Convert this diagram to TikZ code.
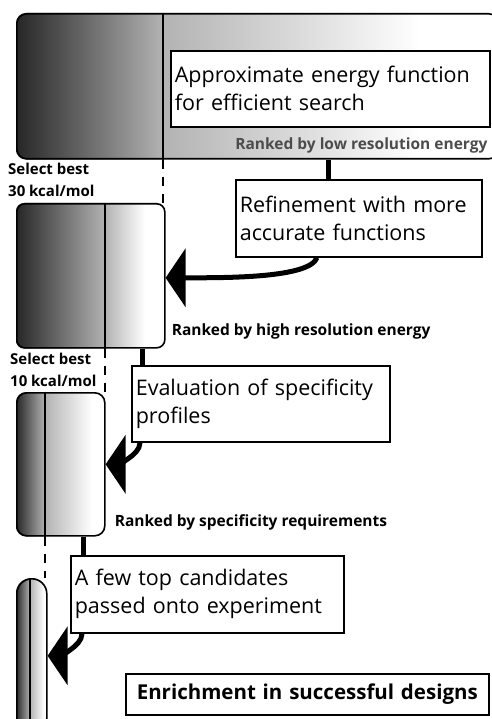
\documentclass[tikz,border=0pt]{standalone}
\usepackage{fontspec}
\setmainfont{Open Sans}
\usepackage{tikz}
\usetikzlibrary{positioning}
\usetikzlibrary{calc}
\usetikzlibrary{arrows.meta}
\tikzset{
    % Broad flat heads for the flow arrows
    >={Triangle[length=20pt, width=58pt]},
%
    % Outline of a pool of designs
    pool/.style={
        draw, line width=1.6pt, inner sep=0, anchor=north west},
%
    % The two shaded parts of a pool
    dark fill/.style={left color=black!85, right color=black!30},
    light fill/.style={left color=black!30, right color=white},
%
    % One step of the protocol, in a white box
    stage/.style={
        draw, line width=1.6pt, fill=white, anchor=north west,
        align=left, inner xsep=4pt, font=\fontsize{21.5}{28}\selectfont},
%
    % Small bold remarks beside the pools
    note/.style={font=\bfseries\fontsize{15.5}{22}\selectfont,
        inner sep=0, align=left},
%
    % Lines between the pools and the steps
    link/.style={line width=5pt},
    flow/.style={line width=5pt, ->},
    divider/.style={line width=1.6pt},
    gap/.style={line width=1.6pt, dash pattern=on 9pt off 8pt}}
\pgfdeclarelayer{background}
\pgfsetlayers{background,main}

\begin{document}
\begin{tikzpicture}[x=1pt, y=1pt]
\useasboundingbox (0,0) rectangle (491,-719);

% each pool is as wide as the best part of the one above
\node (pool1) [pool, rounded corners=10pt,
    minimum width=482pt, minimum height=145pt] at (16,-13) {};
\node (pool2) [pool, rounded corners=8pt,
    minimum width=148pt, minimum height=144pt] at (16,-203) {};
\node (pool3) [pool, rounded corners=10pt,
    minimum width=88pt, minimum height=143pt] at (16,-392) {};
\node (pool4) [pool, rounded corners=15pt,
    minimum width=30pt, minimum height=154pt] at (16,-578) {};

\coordinate (cut1) at ([xshift=147pt]pool1.south west);
\coordinate (cut2) at ([xshift=89pt]pool2.south west);
\coordinate (cut3) at ([xshift=29pt]pool3.south west);
\coordinate (cut4) at ([xshift=14pt]pool4.south west);

\begin{pgfonlayer}{background}
\begin{scope}
\clip [rounded corners=10pt] (pool1.north west) rectangle (pool1.south east);
\shade [dark fill] (pool1.north west) rectangle (cut1);
\shade [light fill] (cut1 |- pool1.north) rectangle (420,-158);
\end{scope}
\begin{scope}
\clip [rounded corners=8pt] (pool2.north west) rectangle (pool2.south east);
\shade [dark fill] (pool2.north west) rectangle (cut2);
\shade [light fill] (cut2 |- pool2.north) rectangle (145,-347);
\end{scope}
\begin{scope}
\clip [rounded corners=10pt] (pool3.north west) rectangle (pool3.south east);
\shade [dark fill] (pool3.north west) rectangle (cut3);
\shade [light fill] (cut3 |- pool3.north) rectangle (92,-535);
\end{scope}
\begin{scope}
\clip [rounded corners=15pt] (pool4.north west) rectangle (pool4.south east);
\shade [dark fill] (pool4.north west) rectangle (cut4);
\shade [light fill] (cut4 |- pool4.north) rectangle (44,-732);
\end{scope}
\end{pgfonlayer}

\draw [divider] (cut1 |- pool1.north) -- (cut1);
\draw [divider] (cut2 |- pool2.north) -- (cut2);
\draw [divider] (cut3 |- pool3.north) -- (cut3);
\draw [divider] (cut4 |- pool4.north) -- (cut4);
\draw [gap] (cut1) -- (cut1 |- pool2.north);
\draw [gap] (cut2) -- (cut2 |- pool3.north);
\draw [gap] (cut3) -- (cut3 |- pool4.north);

\node (approx) [stage, text width=311pt, minimum height=76pt]
    at (170,-50) {Approximate energy function\\for efficient search};
\node (refine) [stage, text width=238pt, minimum height=77pt]
    at (235,-179) {Refinement with more\\accurate functions};
\node (eval) [stage, text width=250pt, minimum height=76pt]
    at (131,-365) {Evaluation of specificity\\profiles};
\node (few) [stage, text width=265pt, minimum height=77pt]
    at (70,-555) {A few top candidates\\passed onto experiment};
\node (enrich) [stage, align=center, text width=355pt, minimum height=41pt,
    font=\bfseries\fontsize{20.5}{24}\selectfont]
    at (125,-673) {Enrichment in successful designs};

\node (low) [note, text=black!70, anchor=base east]
    at ([xshift=-3pt, yshift=-22pt]approx.south east)
    {Ranked by low resolution energy};
\node (high) [note, anchor=base west]
    at ([xshift=6pt, yshift=13pt]pool2.south east)
    {Ranked by high resolution energy};
\node (spec) [note, anchor=base west]
    at ([xshift=9pt, yshift=10pt]pool3.south east)
    {Ranked by specificity requirements};
\node (best30) [note, anchor=north west, font=\bfseries\fontsize{15}{22}\selectfont]
    at ([xshift=-8pt, yshift=-3pt]pool1.south west)
    {Select best\\30 kcal/mol};
\node (best10) [note, anchor=north west, font=\bfseries\fontsize{15}{22}\selectfont]
    at ([xshift=-6pt, yshift=-4pt]pool2.south west)
    {Select best\\10 kcal/mol};

\coordinate (tap1) at ([xshift=93pt]refine.north west);
\coordinate (tap2) at ([xshift=11pt]eval.north west);
\coordinate (tap3) at ([xshift=13pt]few.north west);
\draw [link] (tap1) -- (tap1 |- pool1.south);
\draw [link] (tap2) -- (tap2 |- pool2.south);
\draw [link] (tap3) -- (tap3 |- pool3.south);

\draw [flow] ([xshift=82pt]refine.south west)
    to [out=-110, in=0, out distance=22pt, in distance=60pt]
    ([yshift=-2pt]pool2.east);
\draw [flow] ([xshift=9pt]eval.south west)
    to [out=-90, in=0, out distance=14pt, in distance=8pt] (pool3.east);
\draw [flow] ([xshift=12pt]few.south west)
    to [out=-90, in=0, out distance=14pt, in distance=8pt] (pool4.east);

\end{tikzpicture}
\end{document}
